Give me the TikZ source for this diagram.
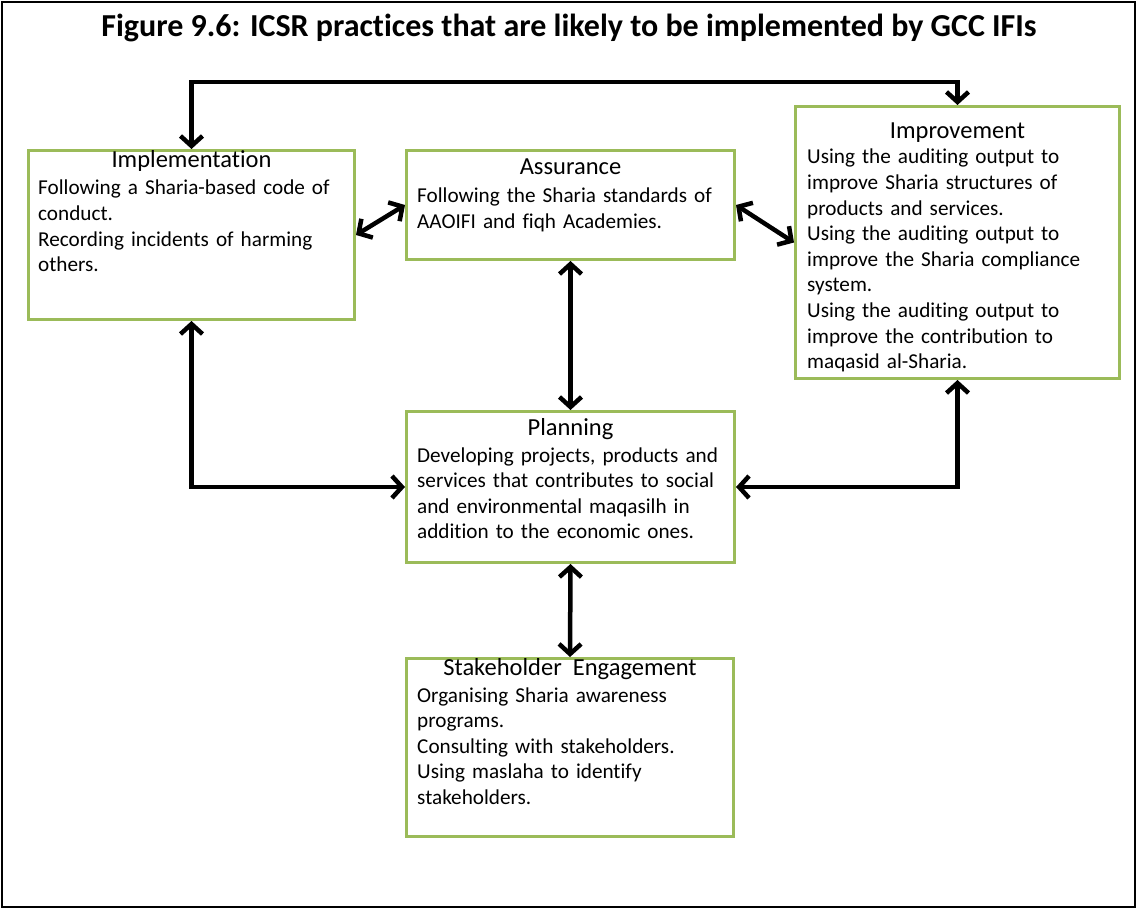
\documentclass[tikz,border=0pt]{standalone}
\usepackage{fontspec}
\setmainfont[Ligatures=NoCommon]{Carlito}
\usetikzlibrary{arrows.meta}
\definecolor{boxgreen}{RGB}{155,187,89}
\tikzset{
  box/.style={draw=boxgreen, line width=3pt, anchor=north west, inner sep=0pt},
  hdr/.style={anchor=base, inner sep=0pt, font=\fontsize{24.5}{28}\selectfont},
  body/.style={anchor=base west, inner sep=0pt, text width=330pt, align=left, font=\fontsize{21.2}{25.6}\selectfont},
  conn/.style={line width=4.5pt, {Straight Barb[length=10pt,width=22pt]}-{Straight Barb[length=10pt,width=22pt]}}
}
\begin{document}
\begin{tikzpicture}[x=1pt, y=-1pt]
  \useasboundingbox (0,0) rectangle (1137,909);
  \draw[line width=2pt] (2,2) rectangle (1135,907);
  \node[anchor=base, inner sep=0pt, font=\bfseries\fontsize{32}{36}\selectfont] (title) at (569,37)
    {Figure 9.6: ICSR practices that are likely to be implemented by GCC IFIs};

  % boxes
  \node[box, minimum width=326pt, minimum height=169pt] (impl) at (27,149) {};
  \node[box, minimum width=328pt, minimum height=109pt] (assur) at (405,149) {};
  \node[box, minimum width=324pt, minimum height=272pt] (impr) at (794,105) {};
  \node[box, minimum width=328pt, minimum height=151pt] (plan) at (405,410) {};
  \node[box, minimum width=327pt, minimum height=178pt] (stake) at (405,657) {};

  % texts
  \node[hdr] (implT) at ([yshift=-19pt]impl.north) {Implementation};
  \node[body] (implB) at ([xshift=11pt,yshift=-46pt]impl.north west)
    {Following a Sharia-based code of\\conduct.\\Recording incidents of harming\\others.};
  \node[hdr] (assurT) at ([yshift=-26pt]assur.north) {Assurance};
  \node[body] (assurB) at ([xshift=12pt,yshift=-54pt]assur.north west)
    {Following the Sharia standards of\\AAOIFI and fiqh Academies.};
  \node[hdr] (imprT) at ([yshift=-34pt]impr.north) {Improvement};
  \node[body] (imprB) at ([xshift=13pt,yshift=-59pt]impr.north west)
    {Using the auditing output to\\improve Sharia structures of\\products and services.\\Using the auditing output to\\improve the Sharia compliance\\system.\\Using the auditing output to\\improve the contribution to\\maqasid al-Sharia.};
  \node[hdr] (planT) at ([yshift=-25pt]plan.north) {Planning};
  \node[body] (planB) at ([xshift=12pt,yshift=-52pt]plan.north west)
    {Developing projects, products and\\services that contributes to social\\and environmental maqasilh in\\addition to the economic ones.};
  \node[hdr] (stakeT) at ([yshift=-18pt]stake.north) {Stakeholder\ \ Engagement};
  \node[body] (stakeB) at ([xshift=12pt,yshift=-45pt]stake.north west)
    {Organising Sharia awareness\\programs.\\Consulting with stakeholders.\\Using maslaha to identify\\stakeholders.};

  % connectors
  \draw[conn] (impl.north) -- ++(0,-67) -| (impr.north);
  \draw[conn] (impl.east) -- (assur.west);
  \draw[conn] (assur.east) -- (impr.west);
  \draw[conn] (assur.south) -- (plan.north);
  \draw[conn] (impl.south) |- (plan.west);
  \draw[conn] (plan.east) -| (impr.south);
  \draw[conn] (plan.south) -- (stake.north);
\end{tikzpicture}
\end{document}
